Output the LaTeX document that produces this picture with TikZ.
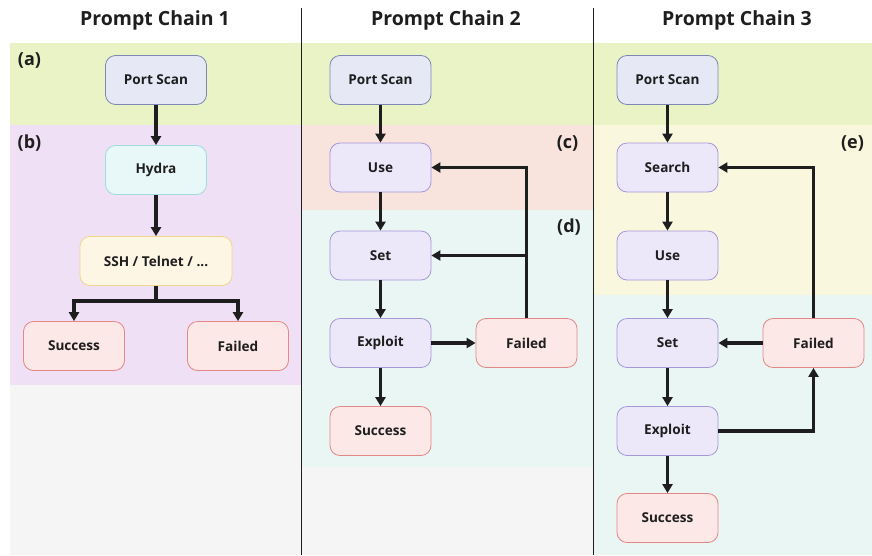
\documentclass[tikz,border=0pt]{standalone}
\usepackage{fontspec}
\setmainfont{Open Sans}
\usetikzlibrary{arrows.meta,calc}

% band colours
\definecolor{bandgreen}{RGB}{234,243,198}
\definecolor{bandpurple}{RGB}{240,224,245}
\definecolor{bandsalmon}{RGB}{248,227,221}
\definecolor{bandmint}{RGB}{234,246,243}
\definecolor{bandyellow}{RGB}{250,247,223}
\definecolor{bandgray}{RGB}{245,245,245}
% box colours
\definecolor{scanfill}{RGB}{230,233,245}
\definecolor{scanline}{RGB}{125,135,180}
\definecolor{hydrafill}{RGB}{232,248,248}
\definecolor{hydraline}{RGB}{160,220,222}
\definecolor{sshfill}{RGB}{253,246,228}
\definecolor{sshline}{RGB}{242,212,140}
\definecolor{endfill}{RGB}{252,232,230}
\definecolor{endline}{RGB}{228,135,135}
\definecolor{stepfill}{RGB}{236,232,250}
\definecolor{stepline}{RGB}{165,152,215}
\definecolor{inkdark}{RGB}{30,30,30}

\begin{document}
\begin{tikzpicture}[x=1pt,y=-1pt,
  box/.style={draw, rounded corners=10pt, minimum width=101pt, minimum height=49pt,
    line width=0.8pt, inner sep=0pt, text=inkdark,
    font=\bfseries\fontsize{13.6}{16}\selectfont},
  scanbox/.style={box, fill=scanfill, draw=scanline},
  hydrabox/.style={box, fill=hydrafill, draw=hydraline},
  sshbox/.style={box, fill=sshfill, draw=sshline, minimum width=152pt},
  endbox/.style={box, fill=endfill, draw=endline},
  stepbox/.style={box, fill=stepfill, draw=stepline},
  flow/.style={draw=inkdark, line width=3.2pt,
    -{Triangle[length=9pt 0 0,width=10pt 0 0]}},
  wire/.style={draw=inkdark, line width=3.2pt},
  title/.style={font=\bfseries\fontsize{19.5}{23}\selectfont, text=inkdark},
  tag/.style={font=\bfseries\fontsize{18}{21}\selectfont, text=inkdark},
]
\useasboundingbox (0,0) rectangle (872,555);
\fill[white] (0,0) rectangle (872,555);

% ---- background bands ----
% chain 1
\fill[bandgreen]  (10,43)  rectangle (301,125);
\fill[bandpurple] (10,125) rectangle (301,385);
\fill[bandgray]   (10,385) rectangle (301,555);
% chain 2
\fill[bandgreen]  (301,43)  rectangle (593,125);
\fill[bandsalmon] (301,125) rectangle (593,210);
\fill[bandmint]   (301,210) rectangle (593,467);
\fill[bandgray]   (301,467) rectangle (593,555);
% chain 3
\fill[bandgreen]  (593,43)  rectangle (872,125);
\fill[bandyellow] (593,125) rectangle (872,295);
\fill[bandmint]   (593,295) rectangle (872,555);

% column dividers
\draw[line width=0.8pt, inkdark] (301,8) -- (301,555);
\draw[line width=0.8pt, inkdark] (593,8) -- (593,555);

% ---- titles and band tags ----
\node[title] (t1) at (155,20) {Prompt Chain 1};
\node[title] (t2) at (446,20) {Prompt Chain 2};
\node[title] (t3) at (737,20) {Prompt Chain 3};
\node[tag] (la) at (29.5,60)  {(a)};
\node[tag] (lb) at (29.5,143) {(b)};
\node[tag] (lc) at (567.5,143) {(c)};
\node[tag] (ld) at (569,227)  {(d)};
\node[tag] (le) at (852.5,143) {(e)};

% ---- chain 1 ----
\node[scanbox]  (ps1)   at (156,80)  {Port Scan};
\node[hydrabox] (hyd1)  at (156,170) {Hydra};
\node[sshbox]   (ssh1)  at (156,261) {SSH / Telnet / ...};
\node[endbox]   (suc1)  at (74,346)  {Success};
\node[endbox]   (fal1)  at (238,346) {Failed};

\draw[flow] (ps1) -- (hyd1);
\draw[flow] (hyd1) -- (ssh1);
\coordinate (split1) at ($(ssh1.south)+(0,15)$);
\draw[wire] (ssh1.south) -- (split1);
\draw[flow] (split1) -| (suc1.north);
\draw[flow] (split1) -| (fal1.north);

% ---- chain 2 ----
\node[scanbox] (ps2)  at (380.5,80)  {Port Scan};
\node[stepbox] (use2) at (380.5,167.5) {Use};
\node[stepbox] (set2) at (380.5,255.5) {Set};
\node[stepbox] (exp2) at (380.5,343) {Exploit};
\node[endbox]  (suc2) at (380.5,431) {Success};
\node[endbox]  (fal2) at (526.5,343) {Failed};

\draw[flow] (ps2) -- (use2);
\draw[flow] (use2) -- (set2);
\draw[flow] (set2) -- (exp2);
\draw[flow] (exp2) -- (suc2);
\draw[flow] (exp2) -- (fal2);
\draw[flow] (fal2.north) |- (use2.east);
\draw[flow] (fal2.north |- set2.east) -- (set2.east);

% ---- chain 3 ----
\node[scanbox] (ps3)  at (667.5,80)  {Port Scan};
\node[stepbox] (sea3) at (667.5,167.5) {Search};
\node[stepbox] (use3) at (667.5,255.5) {Use};
\node[stepbox] (set3) at (667.5,343) {Set};
\node[stepbox] (exp3) at (667.5,431) {Exploit};
\node[endbox]  (suc3) at (667.5,518) {Success};
\node[endbox]  (fal3) at (813.5,343) {Failed};

\draw[flow] (ps3) -- (sea3);
\draw[flow] (sea3) -- (use3);
\draw[flow] (use3) -- (set3);
\draw[flow] (set3) -- (exp3);
\draw[flow] (exp3) -- (suc3);
\draw[flow] (fal3) -- (set3);
\draw[flow] (exp3.east) -| (fal3.south);
\draw[flow] (fal3.north) |- (sea3.east);
\end{tikzpicture}
\end{document}
